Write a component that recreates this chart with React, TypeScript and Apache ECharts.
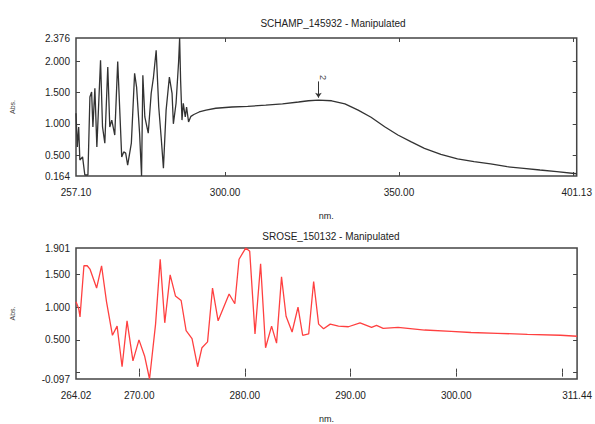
import React, { useEffect, useRef } from "react";
import * as echarts from "echarts";

// Top spectrum: SCHAMP_145932 (wavelength nm, absorbance)
const topX = [257.10, 257.47, 257.87, 258.21, 258.99, 259.64, 260.53, 261.10, 261.59, 261.96, 262.53, 263.10, 264.16, 264.73, 265.39, 266.24, 266.82, 267.39, 268.25, 269.10, 270.25, 270.82, 271.39, 271.96, 273.02, 273.96, 274.53, 275.39, 275.96, 276.33, 276.90, 277.88, 278.73, 279.39, 280.16, 280.90, 281.59, 282.25, 283.02, 283.96, 284.73, 285.11, 285.88, 286.62, 286.91, 287.19, 287.59, 287.96, 288.53, 288.91, 289.48, 290.16, 291.0, 292.53, 294.5, 297.31, 301.97, 306.5, 311.68, 316.5, 321.11, 323.97, 326.83, 330.63, 334.46, 338.26, 341.97, 345.89, 349.69, 353.40, 357.32, 362.06, 366.84, 371.61, 376.35, 381.12, 385.90, 390.56, 395.41, 401.13];
const topY = [1.17, 0.63, 0.95, 0.42, 0.47, 0.18, 0.18, 1.43, 1.51, 0.95, 1.57, 0.63, 2.02, 0.95, 0.69, 1.91, 0.95, 1.06, 0.82, 2.00, 0.47, 0.55, 0.53, 0.34, 0.69, 1.81, 1.59, 0.85, 0.164, 1.78, 1.11, 0.85, 1.49, 1.75, 2.18, 1.27, 0.79, 0.29, 1.22, 1.75, 1.49, 1.00, 1.33, 2.00, 2.376, 1.70, 1.06, 1.33, 1.11, 1.27, 1.03, 1.12, 1.15, 1.19, 1.22, 1.25, 1.27, 1.28, 1.30, 1.32, 1.35, 1.37, 1.38, 1.37, 1.32, 1.22, 1.105, 0.954, 0.821, 0.714, 0.608, 0.512, 0.437, 0.394, 0.357, 0.313, 0.287, 0.26, 0.233, 0.20];

// Bottom spectrum: SROSE_150132
const botX = [264.02, 264.27, 264.40, 264.77, 265.08, 265.34, 265.97, 266.44, 266.91, 267.47, 267.91, 268.38, 268.85, 269.41, 269.98, 270.51, 270.98, 271.55, 271.99, 272.42, 272.93, 273.43, 273.97, 274.44, 275.00, 275.53, 275.94, 276.47, 276.94, 277.47, 278.51, 279.05, 279.45, 280.08, 280.46, 280.96, 281.49, 281.96, 282.53, 283.00, 283.47, 283.90, 284.47, 285.03, 285.47, 286.04, 286.51, 286.98, 287.45, 288.08, 288.86, 289.80, 290.90, 291.99, 292.46, 293.09, 294.50, 297.02, 299.52, 301.40, 303.91, 306.74, 309.87, 311.44];
const botY = [1.08, 0.98, 0.85, 1.63, 1.63, 1.58, 1.29, 1.63, 1.08, 0.57, 0.71, 0.09, 0.79, 0.18, 0.50, 0.255, -0.097, 0.74, 1.73, 0.76, 1.49, 1.17, 1.10, 0.64, 0.52, 0.09, 0.38, 0.47, 1.29, 0.79, 1.20, 1.05, 1.73, 1.90, 1.85, 0.59, 1.66, 0.38, 0.71, 0.45, 1.46, 0.86, 0.62, 1.00, 0.57, 0.59, 1.39, 0.74, 0.67, 0.74, 0.71, 0.70, 0.76, 0.69, 0.72, 0.675, 0.69, 0.65, 0.63, 0.612, 0.60, 0.584, 0.57, 0.555];

const topXLabels = [257.10, 300, 350, 401.13];
const topXTicks = [300, 350, 400];
const topYLabels = [2.376, 2.0, 1.5, 1.0, 0.5, 0.164];
const topYTicks = [2.0, 1.5, 1.0, 0.5];
const botXLabels = [264.02, 270, 280, 290, 300, 311.44];
const botXTicks = [270, 280, 290, 300, 310];
const botYLabels = [1.901, 1.5, 1.0, 0.5, -0.097];
const botYTicks = [1.5, 1.0, 0.5, 0.0];

const peak = { x: 326.83, y: 1.38, label: "2" };

const FONT = "Liberation Sans";
const TXT = "#222";

export default function App() {
  const ref = useRef<HTMLDivElement>(null);
  useEffect(() => {
    const chart = echarts.init(ref.current!, null, { renderer: "svg" });
    const tick = (vals: number[], show = true) => ({
      show,
      inside: true,
      length: 4,
      customValues: vals,
      lineStyle: { color: "#444", width: 1 },
    });
    const xAx = (gi: number, min: number, max: number, labels: number[], ticks: number[]) => [
      {
        type: "value", gridIndex: gi, position: "bottom", min, max,
        name: "nm.", nameLocation: "middle", nameGap: 35,
        nameTextStyle: { fontFamily: FONT, fontSize: 9, color: TXT },
        axisLine: { show: false }, splitLine: { show: false },
        axisTick: tick(ticks),
        axisLabel: { customValues: labels, formatter: (v: number) => v.toFixed(2), fontFamily: FONT, fontSize: 10, color: TXT, margin: 11, showMinLabel: true, showMaxLabel: true },
      },
      {
        type: "value", gridIndex: gi, position: "top", min, max,
        axisLine: { show: false }, splitLine: { show: false },
        axisTick: tick(ticks), axisLabel: { show: false },
      },
    ];
    const yAx = (gi: number, min: number, max: number, labels: number[], ticks: number[]) => [
      {
        type: "value", gridIndex: gi, position: "left", min, max,
        name: "Abs.", nameLocation: "middle", nameGap: 60, nameRotate: 90,
        nameTextStyle: { fontFamily: FONT, fontSize: 7, color: "#444" },
        axisLine: { show: false }, splitLine: { show: false },
        axisTick: tick(ticks),
        axisLabel: { customValues: labels, formatter: (v: number) => v.toFixed(3), fontFamily: FONT, fontSize: 10, color: TXT, margin: 6, showMinLabel: true, showMaxLabel: true },
      },
      {
        type: "value", gridIndex: gi, position: "right", min, max,
        axisLine: { show: false }, splitLine: { show: false },
        axisTick: tick(ticks), axisLabel: { show: false },
      },
    ];
    chart.setOption({
      animation: false,
      backgroundColor: "#fff",
      title: [
        { text: "SCHAMP_145932 - Manipulated", left: 328, top: 13, textAlign: "center", textStyle: { fontFamily: FONT, fontSize: 10, fontWeight: "normal", color: TXT } },
        { text: "SROSE_150132 - Manipulated", left: 326, top: 226, textAlign: "center", textStyle: { fontFamily: FONT, fontSize: 10, fontWeight: "normal", color: TXT } },
      ],
      grid: [
        { left: 76, top: 38, width: 504, height: 138, show: true, borderColor: "#444", borderWidth: 1.5, backgroundColor: "transparent" },
        { left: 76, top: 248, width: 504, height: 138, show: true, borderColor: "#444", borderWidth: 1.5, backgroundColor: "transparent" },
      ],
      xAxis: [...xAx(0, 257.10, 401.13, topXLabels, topXTicks), ...xAx(1, 264.02, 311.44, botXLabels, botXTicks)],
      yAxis: [...yAx(0, 0.164, 2.376, topYLabels, topYTicks), ...yAx(1, -0.097, 1.901, botYLabels, botYTicks)],
      series: [
        {
          type: "line", xAxisIndex: 0, yAxisIndex: 0, showSymbol: false,
          data: topX.map((x, i) => [x, topY[i]]),
          lineStyle: { color: "#333", width: 1.3 },
          markLine: {
            silent: true, symbol: ["none", "arrow"], symbolSize: 5,
            lineStyle: { color: "#333", width: 1, type: "solid" },
            label: { show: true, position: "start", formatter: peak.label, fontFamily: FONT, fontSize: 9, color: "#444", rotate: -90, distance: 4 },
            data: [[{ coord: [peak.x, peak.y + 0.3] }, { coord: [peak.x, peak.y + 0.04] }]],
          },
        },
        {
          type: "line", xAxisIndex: 2, yAxisIndex: 2, showSymbol: false,
          data: botX.map((x, i) => [x, botY[i]]),
          lineStyle: { color: "#ff4040", width: 1.3 },
        },
      ],
    });
    return () => chart.dispose();
  }, []);
  return <div ref={ref} style={{ position: "fixed", left: 0, top: 0, width: 595, height: 424 }} />;
}
